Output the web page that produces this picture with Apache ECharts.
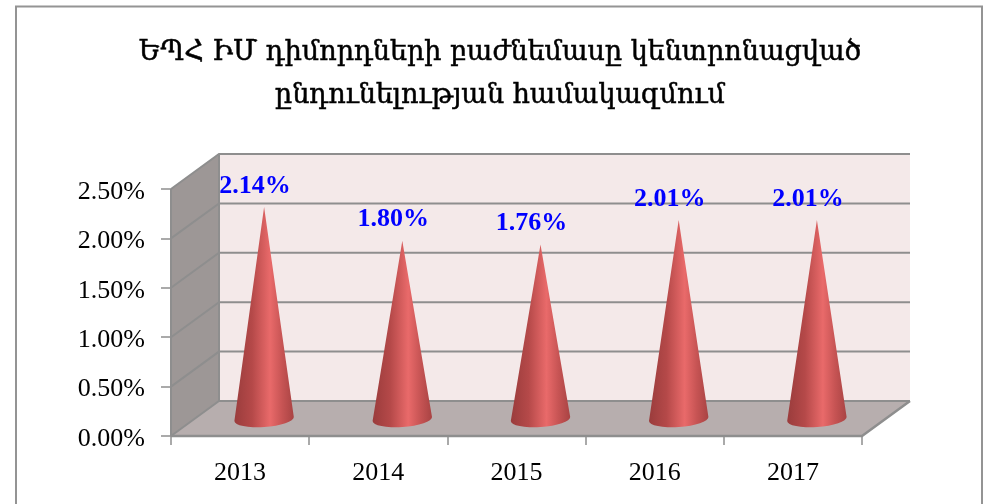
<!DOCTYPE html>
<html><head><meta charset="utf-8">
<style>html,body{margin:0;padding:0;background:#fff}#c{width:984px;height:504px}</style>
<script src="https://cdn.jsdelivr.net/npm/echarts@6/dist/echarts.min.js"></script>
</head><body><div id="c"></div>
<script>
const categories = ['2013','2014','2015','2016','2017'];
const values = [2.14,1.80,1.76,2.01,2.01];
const yTicks = [0,0.5,1,1.5,2,2.5];
const titleLines = ['ԵՊՀ ԻՄ դիմորդների բաժնեմասը կենտրոնացված','ընդունելության համակազմում'];

const DX = 48, DY = -35;
const LINE = '#8e8e8e';
const chart = echarts.init(document.getElementById('c'));

function wallItem(params, api){
  const bw = api.size([1,0])[0];
  const x0 = api.coord([0,0])[0]-bw/2;
  const x1 = api.coord([4,0])[0]+bw/2;
  const y0 = api.coord([0,0])[1];
  const yt = api.coord([0,2.5])[1];
  const o=[x0,y0], t=[x0,yt], r=[x1,y0];
  const kids = [];
  kids.push({type:'polygon',shape:{points:[[x0+DX,yt+DY],[x1+DX,yt+DY],[x1+DX,y0+DY],[x0+DX,y0+DY]]},style:{fill:'#f4e9e9'}});
  kids.push({type:'polygon',shape:{points:[o,[x0+DX,y0+DY],[x0+DX,yt+DY],t]},style:{fill:'#9d9796'}});
  kids.push({type:'polygon',shape:{points:[o,r,[x1+DX,y0+DY],[x0+DX,y0+DY]]},style:{fill:'#b7aeae'}});
  yTicks.forEach(v=>{
    const py = api.coord([0,v])[1];
    kids.push({type:'polyline',shape:{points:[[x0,py],[x0+DX,py+DY],[x1+DX,py+DY]]},style:{fill:null,stroke:LINE,lineWidth:2}});
  });
  kids.push({type:'line',shape:{x1:x0+DX,y1:yt+DY,x2:x0+DX,y2:y0+DY},style:{stroke:LINE,lineWidth:2}});
  kids.push({type:'line',shape:{x1:x0,y1:yt,x2:x0,y2:y0},style:{stroke:LINE,lineWidth:2}});
  kids.push({type:'polyline',shape:{points:[o,r,[x1+DX,y0+DY]]},style:{fill:null,stroke:LINE,lineWidth:2.5}});
  return {type:'group',children:kids};
}
function coneItem(params, api){
  const idx = api.value(0), v = api.value(1);
  const base = api.coord([idx,0]), tip = api.coord([idx,v]);
  const bw = api.size([1,0])[0];
  const hw = bw*0.215;
  const cx = base[0]+DX/2, by = base[1]+DY/2, ty = tip[1]+DY/2;
  const grad = new echarts.graphic.LinearGradient(0,0,1,0,[
    {offset:0,color:'#9a3c3c'},{offset:0.3,color:'#b54949'},{offset:0.6,color:'#e96a6a'},{offset:0.8,color:'#c75454'},{offset:1,color:'#a84343'}]);
  return {type:'group',children:[
    {type:'path',shape:{pathData:`M${cx-hw} ${by+2.5} L${cx} ${ty} L${cx+hw} ${by-1.5} A${hw} 8 -4 0 1 ${cx-hw} ${by+2.5} Z`},style:{fill:grad}},
    {type:'text',x:cx-9,y:ty-21,style:{text:api.value(1).toFixed(2)+'%',fill:'#0000ff',font:'bold 26px "Liberation Serif"',align:'center',verticalAlign:'middle'}}
  ]};
}
chart.setOption({
  animation:false,
  title:[
    {text:titleLines.join('\n'),left:495,top:26,textAlign:'center',textStyle:{fontFamily:'"DejaVu Serif"',fontSize:27,fontWeight:'normal',color:'#000',lineHeight:43,textBorderColor:'#000',textBorderWidth:0.5}}
  ],
  graphic:[{type:'polyline',silent:true,z:-1,shape:{points:[[16,504],[16,6.5],[982,6.5],[982,504]]},style:{fill:null,stroke:'#949494',lineWidth:2}}],
  grid:{left:171,right:122,top:189,bottom:68},
  xAxis:{type:'category',data:categories,boundaryGap:true,
    axisLine:{show:false},axisTick:{show:true,length:9,lineStyle:{color:LINE,width:1.5}},
    axisLabel:{color:'#000',fontFamily:'"Liberation Serif"',fontSize:26,margin:24},splitLine:{show:false}},
  yAxis:{type:'value',min:0,max:2.5,interval:0.5,
    axisLine:{show:false},axisTick:{show:true,length:10,lineStyle:{color:LINE,width:1.5}},
    axisLabel:{color:'#000',fontFamily:'"Liberation Serif"',fontSize:26,margin:26,verticalAlign:'top',lineHeight:6,formatter:v=>v.toFixed(2)+'%'},splitLine:{show:false}},
  series:[
    {type:'custom',renderItem:wallItem,data:[[0,0]],z:1,silent:true,clip:false},
    {type:'custom',renderItem:coneItem,data:values.map((v,i)=>[i,v]),encode:{x:0,y:1},z:2,clip:false}
  ]
});
</script></body></html>
